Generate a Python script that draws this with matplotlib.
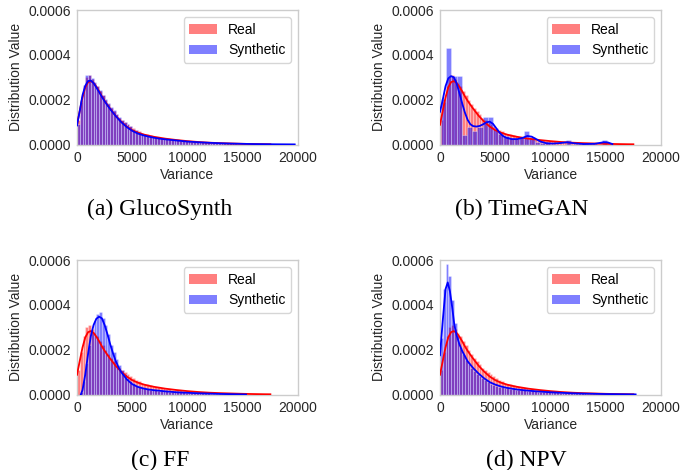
import numpy as np
import matplotlib
matplotlib.use('Agg')
import matplotlib.pyplot as plt
from matplotlib.patches import Patch

plt.rcParams['font.family'] = ['Liberation Sans', 'DejaVu Sans']

# ---------------- data ----------------
panel_captions = ["(a) GlucoSynth", "(b) TimeGAN", "(c) FF", "(d) NPV"]
x_ticks = [0, 5000, 10000, 15000, 20000]
y_ticks = [0.0, 0.0002, 0.0004, 0.0006]

# Real data (same in all panels): histogram (bin width 250, from 0) and KDE
real_bin_start, real_bin_width = 0, 250
real_hist = [0.00011, 0.00019, 0.00026, 0.00030, 0.00031, 0.00029, 0.000275, 0.00026, 0.00024, 0.00022,
             0.0002, 0.00018, 0.000165, 0.00015, 0.000135, 0.00012, 0.00011, 0.0001, 0.00009, 0.000082,
             0.000072, 0.000065, 0.000058, 0.000052, 0.000048, 0.000045, 0.000042, 0.000038, 0.000035, 0.000032,
             0.00003, 0.000028, 0.000026, 0.000024, 0.000022, 0.000021, 0.00002, 0.000018, 0.000017, 0.000016,
             0.000015, 0.000014, 0.000013, 0.000012, 0.000011, 0.00001, 0.0000095, 0.000009, 0.0000085, 0.000008,
             0.0000075, 0.000007, 0.0000065, 0.000006, 0.0000055, 0.000005, 0.0000045, 0.000004,
             0.000004, 0.0000035, 0.000003, 0.000003, 0.0000025, 0.0000025, 0.000002, 0.000002,
             0.0000015, 0.0000015, 0.000001, 0.000001]
real_kde_x = [0, 250, 500, 750, 1000, 1250, 1500, 1750, 2000, 2250, 2500, 2750, 3000, 3500, 4000, 4500,
              5000, 5500, 6000, 6500, 7000, 7500, 8000, 9000, 10000, 11000, 12000, 13000, 14000, 15000,
              16000, 17000, 17500]
real_kde_y = [0.000088, 0.00015, 0.00021, 0.000255, 0.000278, 0.000283, 0.000275, 0.000258, 0.000238,
              0.000215, 0.000195, 0.000177, 0.00016, 0.000128, 0.000102, 0.00008, 0.000064, 0.000053,
              0.000045, 0.000039, 0.000034, 0.00003, 0.000026, 0.00002, 0.000015, 0.000011, 0.000008,
              0.000006, 0.0000045, 0.000003, 0.000002, 0.0000012, 0.000001]

# (a) GlucoSynth synthetic
gluco_bin_start, gluco_bin_width = 0, 250
gluco_hist = [0.00009, 0.0002, 0.000265, 0.00031, 0.00031, 0.000295, 0.00028, 0.000262, 0.000243, 0.000222,
              0.000203, 0.000185, 0.000168, 0.000152, 0.000137, 0.000124, 0.000111, 0.0001, 0.00009, 0.000081,
              0.000071, 0.000063, 0.000056, 0.00005, 0.000046, 0.000042, 0.000038, 0.000035, 0.000032, 0.00003,
              0.000028, 0.000026, 0.000024, 0.000023, 0.000021, 0.00002, 0.000018, 0.000017, 0.000016, 0.000015,
              0.000014, 0.000013, 0.000012, 0.000011, 0.0000105, 0.00001, 0.0000095, 0.000009, 0.0000085, 0.000008,
              0.0000075, 0.000007, 0.0000065, 0.000006, 0.0000055, 0.000005, 0.0000048, 0.0000045, 0.0000042, 0.000004,
              0.0000037, 0.0000035, 0.0000032, 0.000003, 0.0000028, 0.0000026, 0.0000024, 0.0000022, 0.000002, 0.0000018,
              0.0000016, 0.0000015, 0.0000014, 0.0000013, 0.0000012, 0.0000011, 0.000001, 0.000001, 0.0000009]
gluco_kde_x = [0, 250, 500, 750, 1000, 1250, 1500, 1750, 2000, 2250, 2500, 2750, 3000, 3500, 4000, 4500,
               5000, 5500, 6000, 6500, 7000, 7500, 8000, 9000, 10000, 11000, 12000, 13000, 14000, 15000,
               16000, 17000, 18000, 19000, 19700]
gluco_kde_y = [0.000085, 0.00015, 0.00022, 0.000262, 0.000283, 0.000285, 0.000274, 0.000255, 0.000234,
               0.000213, 0.000193, 0.000175, 0.000158, 0.000127, 0.0001, 0.000078, 0.000061, 0.000049,
               0.000041, 0.000035, 0.00003, 0.000026, 0.000023, 0.000018, 0.000013, 0.00001, 0.0000075,
               0.0000055, 0.000004, 0.000003, 0.000002, 0.0000015, 0.000001, 0.0000007, 0.0000005]

# (b) TimeGAN synthetic
timegan_bin_start, timegan_bin_width = 100, 470
timegan_hist = [0.000203, 0.000432, 0.000307, 0.000307, 0.000041, 0.00008, 0.000062, 0.00008, 0.000121,
                0.000121, 0.00007, 0.000047, 0.00004, 0.000027, 0.000023, 0.000035, 0.000062, 0.000032,
                0.00001, 0.000005, 0.000005, 0.0, 0.0, 0.0, 0.00002, 0.0, 0.0, 0.0, 0.0, 0.0, 0.0,
                0.00002, 0.0]
timegan_kde_x = [0, 250, 500, 750, 1000, 1250, 1500, 1750, 2000, 2250, 2500, 2750, 3000, 3300, 3600, 3900,
                 4200, 4500, 4800, 5100, 5400, 5700, 6000, 6500, 7000, 7500, 7900, 8300, 8700, 9100, 9600,
                 10200, 10800, 11500, 12200, 13000, 14000, 14800, 15200, 15600]
timegan_kde_y = [0.000146, 0.0002, 0.00026, 0.000295, 0.000305, 0.0003, 0.000273, 0.00023, 0.000185,
                 0.000143, 0.00011, 0.00009, 0.000082, 0.00008, 0.000083, 0.00009, 0.000099, 0.000102,
                 0.000092, 0.000072, 0.000052, 0.000038, 0.00003, 0.000024, 0.000024, 0.00003, 0.000038,
                 0.000035, 0.000024, 0.000013, 0.000006, 0.000004, 0.000006, 0.00001, 0.000005, 0.000002,
                 0.000003, 0.00001, 0.000009, 0.000002]

# (c) FF synthetic
ff_bin_start, ff_bin_width = 250, 250
ff_hist = [0.00001, 0.00006, 0.00014, 0.00022, 0.00028, 0.00033, 0.00036, 0.00037, 0.00034, 0.00031,
           0.00027, 0.00022, 0.00019, 0.00016, 0.00013, 0.00011, 0.00009, 0.000075, 0.00006, 0.00005,
           0.000042, 0.000036, 0.000031, 0.000027, 0.000024, 0.000022, 0.00002, 0.000019, 0.000017, 0.000016,
           0.000015, 0.000014, 0.000013, 0.000012, 0.000011, 0.00001, 0.0000095, 0.000009, 0.0000085, 0.000008,
           0.0000075, 0.000007, 0.0000065, 0.000006, 0.0000055, 0.000005, 0.0000045, 0.000004, 0.0000037, 0.0000034,
           0.000003, 0.0000027, 0.0000024, 0.0000021, 0.0000018, 0.0000015, 0.0000012, 0.000001, 0.0000008, 0.0000006]
ff_kde_x = [350, 500, 750, 1000, 1250, 1500, 1750, 2000, 2250, 2500, 2750, 3000, 3250, 3500, 3750, 4000,
            4500, 5000, 5500, 6000, 6500, 7000, 8000, 9000, 10000, 11000, 12000, 13000, 14000, 15000, 15300]
ff_kde_y = [0.0, 0.00002, 0.00009, 0.00018, 0.00026, 0.00031, 0.000338, 0.000347, 0.00034, 0.00031,
            0.00027, 0.000225, 0.000185, 0.00015, 0.000122, 0.0001, 0.000068, 0.000046, 0.000034, 0.000027,
            0.000022, 0.000019, 0.000014, 0.00001, 0.0000075, 0.0000055, 0.000004, 0.0000025, 0.0000015,
            0.0000005, 0.0]

# (d) NPV synthetic
npv_bin_start, npv_bin_width = 0, 250
npv_hist = [0.00025, 0.00047, 0.00058, 0.00053, 0.00042, 0.00032, 0.00026, 0.00021, 0.00018, 0.000155,
            0.000135, 0.00012, 0.000105, 0.000093, 0.000082, 0.000072, 0.000063, 0.000055, 0.000049, 0.000043,
            0.000039, 0.000035, 0.000032, 0.000029, 0.000027, 0.000025, 0.000023, 0.000021, 0.00002, 0.000019,
            0.000018, 0.000017, 0.000016, 0.000015, 0.000014, 0.000013, 0.000012, 0.0000115, 0.000011, 0.0000105,
            0.00001, 0.0000095, 0.000009, 0.0000085, 0.000008, 0.0000075, 0.000007, 0.0000065, 0.000006, 0.0000056,
            0.0000052, 0.0000048, 0.0000045, 0.0000042, 0.0000039, 0.0000036, 0.0000033, 0.000003, 0.0000028, 0.0000026,
            0.0000024, 0.0000022, 0.000002, 0.0000018, 0.0000016, 0.0000014, 0.0000012, 0.000001, 0.0000009, 0.0000008,
            0.0000007]
npv_kde_x = [0, 250, 500, 700, 900, 1100, 1300, 1500, 1750, 2000, 2500, 3000, 3500, 4000, 4500, 5000,
             5500, 6000, 7000, 8000, 9000, 10000, 11000, 12000, 13000, 14000, 15000, 16000, 17000, 17700]
npv_kde_y = [0.000175, 0.00033, 0.00047, 0.0005, 0.00046, 0.00039, 0.00031, 0.000265, 0.000225, 0.000195,
             0.000148, 0.000118, 0.000093, 0.000072, 0.000055, 0.000044, 0.000036, 0.00003, 0.000022,
             0.000017, 0.000013, 0.00001, 0.0000075, 0.0000055, 0.000004, 0.000003, 0.000002, 0.0000015,
             0.000001, 0.0000005]

synthetic = [
    (gluco_bin_start, gluco_bin_width, gluco_hist, gluco_kde_x, gluco_kde_y),
    (timegan_bin_start, timegan_bin_width, timegan_hist, timegan_kde_x, timegan_kde_y),
    (ff_bin_start, ff_bin_width, ff_hist, ff_kde_x, ff_kde_y),
    (npv_bin_start, npv_bin_width, npv_hist, npv_kde_x, npv_kde_y),
]

# ---------------- layout ----------------
W, H = 680, 470
fig = plt.figure(figsize=(W / 100, H / 100), dpi=100)
ax_px = [(77, 10), (440, 10), (77, 260), (440, 260)]   # left, top in pixels
ax_w, ax_h = 221, 134.5
caption_px = [(160, 209), (522, 209), (160, 460), (526, 460)]


def draw_hist(ax, start, width, heights, color):
    edges = start + width * np.arange(len(heights) + 1)
    ax.bar(edges[:-1], heights, width=width, align='edge', color=color, alpha=0.5,
           edgecolor='white', linewidth=0.4, zorder=2)


for i, (left, top) in enumerate(ax_px):
    ax = fig.add_axes([left / W, 1 - (top + ax_h) / H, ax_w / W, ax_h / H])
    s_start, s_width, s_hist, s_kx, s_ky = synthetic[i]
    draw_hist(ax, real_bin_start, real_bin_width, real_hist, 'red')
    draw_hist(ax, s_start, s_width, s_hist, 'blue')
    ax.plot(real_kde_x, real_kde_y, color='red', lw=1.3, zorder=3)
    ax.plot(s_kx, s_ky, color='blue', lw=1.3, zorder=4)

    ax.set_xlim(0, 20000)
    ax.set_ylim(0, 0.0006)
    ax.set_xticks(x_ticks)
    ax.set_xticklabels([str(t) for t in x_ticks])
    ax.set_yticks(y_ticks)
    ax.set_yticklabels([f"{t:.4f}" for t in y_ticks])
    ax.tick_params(length=0, pad=4.5, labelsize=10, colors='#262626')
    for sp in ax.spines.values():
        sp.set_color('#cccccc')
        sp.set_linewidth(1.0)
    ax.set_xlabel("Variance", fontsize=10, color='#262626', labelpad=2)
    ax.set_ylabel("Distribution Value", fontsize=10, color='#262626', labelpad=4)

    handles = [Patch(facecolor='red', alpha=0.5, edgecolor='none'),
               Patch(facecolor='blue', alpha=0.5, edgecolor='none')]
    leg = ax.legend(handles, ["Real", "Synthetic"], loc='upper right', fontsize=10,
                    frameon=True, handlelength=2.0, handleheight=0.7, handletextpad=0.8)
    leg.get_frame().set_edgecolor('#cccccc')

    cx, cy = caption_px[i]
    fig.text(cx / W, 1 - cy / H, panel_captions[i], ha='center', va='center',
             family=['Liberation Serif', 'DejaVu Serif'], fontsize=17)

fig.savefig("out.png", dpi=100)
